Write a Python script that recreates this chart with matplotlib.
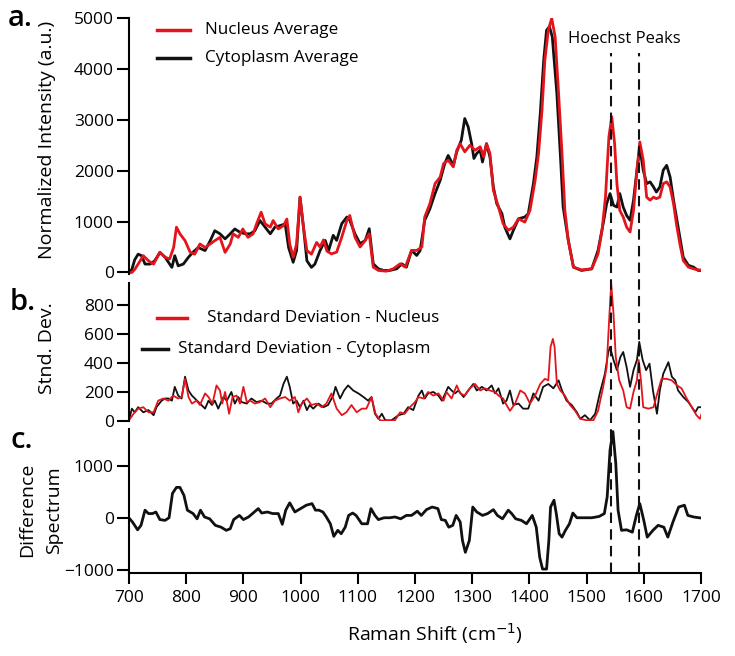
import matplotlib
matplotlib.use("Agg")
import matplotlib.pyplot as plt
from matplotlib.lines import Line2D

plt.rcParams['font.family'] = ['Open Sans', 'DejaVu Sans']

# ---------------- data ----------------
# Panel a: average spectra
a_cyto_x = [700, 705, 710, 716, 722, 728, 737, 745, 754, 763, 775, 780, 786, 795, 804, 812, 821, 833, 842, 850,
            859, 868, 877, 885, 894, 903, 912, 920, 929, 938, 947, 955, 964, 973, 979, 987, 993, 999, 1005, 1011,
            1019, 1025, 1034, 1043, 1049, 1057, 1063, 1072, 1081, 1086, 1095, 1104, 1113, 1120, 1127, 1136, 1145,
            1156, 1168, 1177, 1185, 1194, 1203, 1209, 1217, 1226, 1235, 1244, 1252, 1258, 1267, 1273, 1281, 1287,
            1293, 1299, 1303, 1308, 1314, 1318, 1325, 1331, 1337, 1343, 1352, 1357, 1366, 1372, 1381, 1392, 1398,
            1407, 1413, 1419, 1425, 1430, 1435, 1440, 1448, 1454, 1459, 1468, 1477, 1491, 1509, 1520, 1529, 1535,
            1541, 1547, 1553, 1558, 1564, 1570, 1576, 1582, 1588, 1593, 1599, 1605, 1611, 1617, 1622, 1628, 1634,
            1640, 1646, 1652, 1657, 1663, 1669, 1678, 1687, 1695, 1700]
a_cyto_y = [0, 60, 250, 360, 330, 165, 165, 230, 395, 300, 100, 330, 130, 165, 300, 400, 490, 430, 625, 820,
            760, 660, 760, 855, 790, 760, 760, 820, 1020, 890, 760, 890, 920, 955, 490, 200, 430, 1480, 890, 230,
            100, 165, 430, 630, 433, 730, 630, 960, 1090, 1025, 760, 565, 630, 860, 170, 72, 40,
            40, 72, 170, 105, 433, 335, 433, 1025, 1250, 1550, 1810, 2140, 2300, 2105, 2370, 2600, 3025,
            2860, 2530, 2240, 2340, 2400, 2170, 2530, 2270, 1680, 1350, 1155, 890, 660, 830, 1055, 1090, 1155,
            1745, 2270, 3120, 4170, 4760, 4830, 4630, 3520, 2335, 1285, 630, 105, 40, 72, 433, 960, 1350,
            1550, 1320, 1285, 1550, 1285, 1120, 1025, 1420, 2010, 2450, 2010, 1745, 1780, 1680, 1580, 1680, 2010,
            2105, 1875, 1420, 1090, 695, 300, 140, 105, 40, 40]

a_nuc_x = [700, 705, 710, 716, 725, 734, 743, 754, 763, 771, 778, 783, 789, 798, 807, 815, 824, 833, 842, 850,
           859, 868, 877, 882, 891, 899, 908, 917, 923, 931, 938, 947, 952, 961, 970, 976, 981, 987, 993, 999,
           1005, 1011, 1019, 1028, 1034, 1040, 1046, 1054, 1063, 1072, 1081, 1086, 1095, 1104, 1113, 1120, 1127,
           1136, 1150, 1162, 1174, 1183, 1194, 1203, 1212, 1217, 1226, 1235, 1244, 1250, 1258, 1267, 1273, 1279,
           1287, 1296, 1305, 1314, 1320, 1325, 1331, 1337, 1346, 1354, 1363, 1372, 1381, 1392, 1401, 1410, 1416,
           1422, 1427, 1433, 1439, 1445, 1451, 1457, 1462, 1468, 1477, 1491, 1509, 1520, 1527, 1533, 1539, 1544,
           1549, 1553, 1558, 1564, 1570, 1576, 1582, 1588, 1593, 1599, 1605, 1611, 1617, 1622, 1628, 1634, 1640,
           1646, 1652, 1657, 1663, 1669, 1678, 1687, 1695, 1700]
a_nuc_y = [0, 0, 60, 165, 330, 230, 165, 395, 300, 265, 490, 890, 760, 625, 395, 360, 560, 490, 560, 625,
           690, 395, 560, 760, 690, 855, 690, 760, 955, 1185, 955, 890, 1020, 855, 920, 1050, 560, 300, 560, 1480,
           890, 430, 360, 590, 500, 640, 420, 365, 400, 695, 1025, 1120, 695, 500, 630, 760, 105,
           40, 25, 72, 170, 105, 433, 433, 500, 1090, 1350, 1745, 1875, 2140, 2205, 2075, 2400, 2530,
           2370, 2500, 2400, 2470, 2270, 2530, 2340, 1615, 1285, 960, 830, 890, 1055, 990, 1220, 1810, 2335,
           3190, 4170, 4760, 4995, 4630, 3520, 2335, 1220, 630, 105, 50, 72, 365, 830, 1480, 2665, 3060,
           2530, 1745, 1220, 1090, 890, 795, 1220, 2010, 2565, 2205, 1480, 1420, 1480, 1450, 1480, 1745, 1780,
           1680, 1350, 960, 565, 235, 105, 72, 50, 50]

# Panel b: standard deviations
b_cyto_x = [700, 705, 710, 716, 725, 734, 743, 748, 757, 763, 769, 775, 780, 786, 792, 798, 804, 810, 815, 824,
            833, 839, 845, 850, 856, 865, 871, 879, 885, 891, 897, 906, 914, 923, 932, 941, 949, 958, 964, 970,
            976, 981, 987, 993, 999, 1005, 1011, 1016, 1022, 1031, 1040, 1048, 1057, 1061, 1069, 1076, 1083, 1092,
            1101, 1110, 1118, 1124, 1130, 1136, 1142, 1148, 1159, 1171, 1180, 1188, 1197, 1206, 1212, 1217,
            1223, 1232, 1241, 1247, 1253, 1258, 1264, 1270, 1276, 1285, 1293, 1302, 1308, 1317, 1325, 1334, 1340,
            1346, 1354, 1360, 1366, 1372, 1381, 1389, 1398, 1407, 1416, 1424, 1433, 1442, 1451, 1457, 1465, 1474,
            1483, 1489, 1497, 1506, 1515, 1523, 1532, 1538, 1541, 1547, 1553, 1559, 1564, 1570, 1576, 1582, 1588,
            1592, 1598, 1604, 1610, 1616, 1623, 1628, 1634, 1643, 1649, 1655, 1660, 1669, 1678, 1684, 1690, 1695,
            1700]
b_cyto_y = [5, 85, 60, 95, 60, 75, 40, 95, 140, 155, 155, 140, 235, 175, 155, 305, 210, 175, 155, 120,
            85, 140, 110, 140, 85, 165, 140, 200, 120, 165, 130, 120, 155, 130, 140, 120, 120, 155, 175, 255,
            305, 235, 120, 140, 95, 140, 75, 110, 85, 120, 95, 110, 175, 235, 155, 210, 245, 210,
            190, 165, 140, 165, 50, 15, 50, 5, 5, 40, 50, 95, 75, 175, 210, 155,
            190, 200, 175, 140, 190, 235, 210, 190, 210, 165, 210, 255, 210, 235, 210, 245, 190,
            225, 120, 140, 210, 110, 120, 85, 85, 190, 140, 235, 255, 225, 280, 210, 140, 110,
            60, 15, 40, 5, 50, 190, 325, 475, 510, 420, 350, 440, 475, 370, 235, 350, 420,
            545, 420, 350, 395, 210, 50, 210, 325, 405, 305, 280, 210, 165, 130, 95, 60, 95,
            95]

b_nuc_x = [700, 708, 716, 725, 734, 743, 751, 760, 769, 777, 786, 792, 798, 804, 810, 818, 824, 833, 839, 846,
           853, 859, 863, 868, 875, 881, 888, 894, 900, 906, 912, 920, 929, 938, 947, 955, 964, 973, 981, 990,
           996, 1002, 1011, 1019, 1028, 1037, 1045, 1054, 1063, 1072, 1080, 1089, 1098, 1107, 1115, 1124, 1131,
           1139, 1153, 1165, 1174, 1182, 1191, 1200, 1206, 1215, 1223, 1232, 1241, 1250, 1255, 1264, 1273, 1279,
           1287, 1296, 1305, 1314, 1322, 1331, 1340, 1346, 1354, 1360, 1366, 1375, 1384, 1392, 1401, 1410, 1419,
           1427, 1433, 1437, 1441, 1444, 1448, 1454, 1462, 1471, 1480, 1489, 1500, 1512, 1520, 1529, 1535, 1540,
           1543, 1547, 1551, 1557, 1564, 1570, 1576, 1582, 1588, 1591, 1595, 1599, 1608, 1617, 1625, 1631, 1640,
           1649, 1658, 1666, 1675, 1684, 1692, 1698, 1702]
b_nuc_y = [5, 50, 85, 95, 60, 60, 140, 155, 140, 175, 155, 165, 290, 165, 120, 140, 110, 190, 165, 120,
           245, 210, 120, 200, 50, 165, 175, 120, 235, 130, 140, 120, 130, 155, 95, 140, 155, 165, 140, 165,
           60, 120, 155, 110, 120, 95, 120, 190, 85, 40, 60, 110, 60, 85, 85, 165, 50,
           5, 0, 5, 60, 50, 95, 130, 165, 155, 200, 175, 190, 140, 200, 155, 245, 190,
           175, 225, 255, 210, 225, 210, 200, 175, 155, 110, 70, 120, 210, 190, 120, 175, 255,
           290, 280, 510, 565, 510, 255, 210, 175, 110, 70, 15, 5, 5, 70, 235, 370, 740,
           945, 740, 440, 280, 210, 95, 85, 200, 280, 420, 280, 95, 85, 95, 210, 290, 290,
           280, 245, 225, 155, 95, 40, 15, 60]

# Panel c: difference spectrum
c_x = [700, 706, 715, 721, 728, 734, 741, 747, 754, 763, 770, 776, 783, 789, 796, 802, 812, 819, 825, 832,
       841, 851, 861, 870, 877, 883, 893, 900, 909, 919, 926, 932, 942, 951, 961, 968, 974, 981, 990, 1000,
       1010, 1020, 1026, 1032, 1039, 1045, 1052, 1058, 1065, 1071, 1078, 1084, 1091, 1097, 1107, 1117, 1123,
       1130, 1136, 1146, 1156, 1165, 1175, 1185, 1194, 1204, 1211, 1220, 1230, 1240, 1246, 1253, 1259, 1266,
       1272, 1279, 1283, 1288, 1295, 1301, 1308, 1318, 1327, 1337, 1344, 1353, 1363, 1369, 1376, 1386, 1395,
       1405, 1412, 1418, 1423, 1430, 1434, 1437, 1443, 1447, 1452, 1457, 1463, 1470, 1476, 1483, 1496, 1509,
       1522, 1531, 1536, 1541, 1546, 1551, 1555, 1561, 1570, 1580, 1587, 1593, 1600, 1606, 1616, 1625, 1635,
       1642, 1651, 1661, 1671, 1677, 1687, 1697, 1700]
c_y = [0, -75, -225, -140, 150, 85, 85, 115, -30, -45, 5, 470, 585, 585, 435, 150, 85, -15, 150, 20,
       -15, -140, -175, -235, -205, -30, 50, -30, 20, 115, 180, 95, 115, 85, 85, -120, 150, 290, 115, 180,
       245, 275, 150, 150, 115, 20, -110, -350, -235, -300, -175, 50, 95, 50, -110, -110, 180,
       50, -30, 5, 5, 20, -15, 50, 50, 130, 50, 160, 210, 180, -30, -45, -175, -140,
       50, -75, -430, -655, -430, 210, 115, 50, 85, 160, 50, -15, 150, 85, -15, -45, -110,
       50, -175, -750, -975, -975, -430, 210, 340, 85, -300, -365, -235, -110, 95, 5, 5, 5,
       30, 85, 405, 1300, 1650, 1045, 150, -235, -225, -270, 50, 275, -45, -365, -235, -140, -175,
       -365, -75, 210, 245, 50, 20, 5, 0]

hoechst_x = [1542, 1592]

x_ticks = [700, 800, 900, 1000, 1100, 1200, 1300, 1400, 1500, 1600, 1700]
a_ticks = [0, 1000, 2000, 3000, 4000, 5000]
b_ticks = [0, 200, 400, 600, 800]
c_ticks = [-1000, 0, 1000]

RED = '#e3151c'
BLACK = '#111111'

W, H = 735, 656
fig = plt.figure(figsize=(W / 100, H / 100), dpi=100)

def fx(px):
    return px / W

def fy(py):
    return 1 - py / H

def add_ax(top, bottom):
    return fig.add_axes([fx(129), fy(bottom), fx(701) - fx(129), fy(top) - fy(bottom)])

ax_a = add_ax(18, 274)
ax_b = add_ax(283, 421)
ax_c = add_ax(429, 573)

for ax in (ax_a, ax_b, ax_c):
    ax.set_xlim(700, 1700)
    for s in ('top', 'right'):
        ax.spines[s].set_visible(False)
    ax.spines['left'].set_linewidth(1.5)
    ax.spines['bottom'].set_linewidth(1.5)
    ax.tick_params(axis='y', direction='out', length=9, width=1.5, labelsize=12.5, pad=2)
    ax.patch.set_alpha(0)

for ax in (ax_a, ax_b):
    ax.spines['bottom'].set_visible(False)
    ax.set_xticks([])

ax_c.set_xticks(x_ticks)
ax_c.tick_params(axis='x', direction='out', length=8, width=1.5, labelsize=12.5, pad=4)

# panel a
ax_a.plot(a_cyto_x, a_cyto_y, color=BLACK, lw=2.0, solid_joinstyle='round')
ax_a.plot(a_nuc_x, a_nuc_y, color=RED, lw=2.0, solid_joinstyle='round')
ax_a.set_ylim(-30, 5000)
ax_a.set_yticks(a_ticks)

# panel b
ax_b.plot(b_cyto_x, b_cyto_y, color=BLACK, lw=1.3)
ax_b.plot(b_nuc_x, b_nuc_y, color=RED, lw=1.3)
ax_b.set_ylim(0, 950)
ax_b.set_yticks(b_ticks)

# panel c
ax_c.plot(c_x, c_y, color=BLACK, lw=2.0, solid_joinstyle='round')
ax_c.set_ylim(-1050, 1700)
ax_c.set_yticks(c_ticks)

# dashed Hoechst lines (overlay spanning all panels)
ov = fig.add_axes([fx(129), fy(573), fx(701) - fx(129), fy(53) - fy(573)])
ov.set_xlim(700, 1700)
ov.set_ylim(0, 1)
ov.axis('off')
for xv in hoechst_x:
    ov.axvline(xv, color=BLACK, lw=1.5, linestyle=(0, (5, 3)))

fig.text(fx(624), fy(39), 'Hoechst Peaks', ha='center', va='center', fontsize=12)

# legends
def leg(x0, x1, y, color, lw, tx, label):
    fig.add_artist(Line2D([fx(x0), fx(x1)], [fy(y), fy(y)], color=color, lw=lw, transform=fig.transFigure))
    fig.text(fx(tx), fy(y), label, ha='left', va='center', fontsize=12.3)

leg(157, 190, 30, RED, 2.5, 205, 'Nucleus Average')
leg(157, 190, 58, BLACK, 2.5, 205, 'Cytoplasm Average')
leg(157, 187, 318, RED, 2.5, 207, 'Standard Deviation - Nucleus')
leg(142, 168, 349, BLACK, 2.5, 178, 'Standard Deviation - Cytoplasm')

# axis labels
fig.text(fx(47), fy(140), 'Normalized Intensity (a.u.)', rotation=90, ha='center', va='center', fontsize=14)
fig.text(fx(47), fy(348), 'Stnd. Dev.', rotation=90, ha='center', va='center', fontsize=14)
fig.text(fx(27), fy(510), 'Difference', rotation=90, ha='center', va='center', fontsize=14)
fig.text(fx(54), fy(510), 'Spectrum', rotation=90, ha='center', va='center', fontsize=14)
fig.text(fx(435), fy(634), 'Raman Shift (cm$^{-1}$)', ha='center', va='center', fontsize=14)

# panel letters
fig.text(fx(8), fy(19), 'a.', ha='left', va='center', fontsize=21, fontweight='semibold')
fig.text(fx(10), fy(302), 'b.', ha='left', va='center', fontsize=21, fontweight='semibold')
fig.text(fx(10), fy(441), 'c.', ha='left', va='center', fontsize=21, fontweight='semibold')

fig.savefig('out.png', dpi=100)
